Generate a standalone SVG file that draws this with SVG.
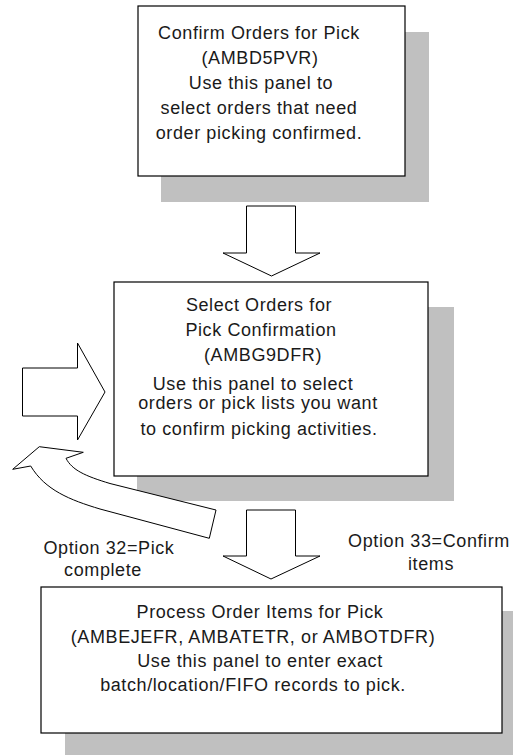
<svg xmlns="http://www.w3.org/2000/svg" width="513" height="755" viewBox="0 0 513 755">
<style>
.bg{fill:#ffffff}
.shadow{fill:#c0c0c0;stroke:none}
.box{fill:#ffffff;stroke:#000000;stroke-width:1.2}
.arrow{fill:#ffffff;stroke:#000000;stroke-width:1;stroke-linejoin:miter}
text{font-family:"Liberation Sans",Arial,Helvetica,sans-serif;font-size:18px;fill:#1a1a1a;text-anchor:middle;letter-spacing:0.6px}
</style>
<rect class="bg" x="0" y="0" width="513" height="755"/>
<g id="node-confirm-orders">
  <rect class="shadow" x="161" y="32" width="268" height="170"/>
  <rect class="box" x="138" y="6" width="267" height="170"/>
  <text x="259" y="39">Confirm Orders for Pick</text>
  <text x="260" y="64">(AMBD5PVR)</text>
  <text x="261" y="89">Use this panel to</text>
  <text x="259" y="114">select orders that need</text>
  <text x="259" y="139">order picking confirmed.</text>
</g>
<g id="node-select-orders">
  <rect class="shadow" x="137" y="307" width="317" height="194"/>
  <rect class="box" x="114" y="282" width="314" height="194"/>
  <text x="259" y="311">Select Orders for</text>
  <text x="261" y="336">Pick Confirmation</text>
  <text x="263" y="361">(AMBG9DFR)</text>
  <text x="253" y="390">Use this panel to select</text>
  <text x="258" y="409">orders or pick lists you want</text>
  <text x="259" y="435">to confirm picking activities.</text>
</g>
<g id="node-process-items">
  <rect class="shadow" x="65" y="611" width="448" height="144"/>
  <rect class="box" x="41" y="587" width="461" height="146"/>
  <text x="260" y="618">Process Order Items for Pick</text>
  <text x="253" y="643">(AMBEJEFR, AMBATETR, or AMBOTDFR)</text>
  <text x="260" y="667">Use this panel to enter exact</text>
  <text x="253" y="691">batch/location/FIFO records to pick.</text>
</g>
<g id="connectors">
  <polygon class="arrow" points="246.5,206 295.5,206 295.5,253 320,253 271.5,276 223,253 246.5,253"/>
  <polygon class="arrow" points="246.5,510 295.5,510 295.5,556 320,556 271,579 223,556 246.5,556"/>
  <polygon class="arrow" points="22.5,368 77.5,368 77.5,343 105,392 77.5,440 77.5,416 22.5,416"/>
  <path class="arrow" d="M12.7,469.3 L39.3,446.7 L83.3,452.3 L66,458.3 C72,470 85,476 110,483.5 L216,510 L209.3,538.3 L100,509 C70,500 45,490 30.7,466 Z"/>
</g>
<g id="labels">
  <text x="109" y="554">Option 32=Pick</text>
  <text x="103" y="576">complete</text>
  <text x="429" y="547">Option 33=Confirm</text>
  <text x="431" y="570">items</text>
</g>
</svg>
